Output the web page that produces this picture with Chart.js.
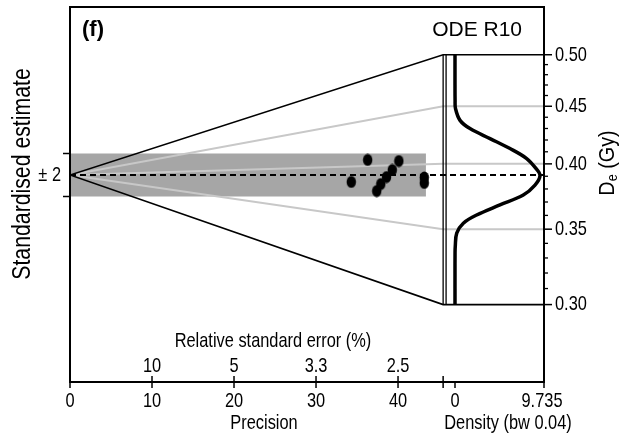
<!DOCTYPE html>
<html><head><meta charset="utf-8">
<script src="https://cdn.jsdelivr.net/npm/chart.js@4.4.0/dist/chart.umd.min.js"></script>
<style>html,body{margin:0;padding:0;background:#fff;}#wrap{width:632px;height:439px;position:relative;}</style>
</head><body><div id="wrap"><canvas id="c"></canvas></div>
<script>
// ---- data ----
const centralDe = 0.391;                       // central dose (Gy), dashed line
const precision   = [34.3, 36.3, 37.4, 37.9, 38.6, 39.3, 40.1, 43.2, 43.2];
const stdEstimate = [-0.65, 1.40, -1.49, -0.84, -0.19, 0.47, 1.30, -0.23, -0.74];
const densityDe  = [0.300, 0.320, 0.333, 0.338, 0.3472, 0.3543, 0.3603, 0.3678, 0.3753, 0.3830, 0.3905, 0.3963, 0.4044, 0.4127, 0.4212, 0.4299, 0.4372, 0.4480, 0.4554, 0.470, 0.500];
const densityVal = [0, 0, 0.005, 0.03, 0.19, 0.91, 2.37, 4.92, 7.47, 8.75, 9.3, 8.85, 7.84, 6.02, 3.83, 1.64, 0.55, 0.05, 0.01, 0, 0];
const deMajorTicks = [0.30, 0.35, 0.40, 0.45, 0.50];
const deMinorTicks = [0.31, 0.32, 0.33, 0.34, 0.36, 0.37, 0.38, 0.39, 0.41, 0.42, 0.43, 0.44, 0.46, 0.47, 0.48, 0.49];
const deRange = [0.30, 0.50];
const greyLineDe = [0.35, 0.40, 0.45];
const precisionTicks = [0, 10, 20, 30, 40];
const rseTickPrecision = [10, 20, 30, 40];
const rseTickLabels = ['10', '5', '3.3', '2.5'];
const densityTicks = [0, 9.735];
const densityTickLabels = ['0', '9.735'];
const bandZ = 2;
const bandMaxPrecision = 43.4;
const xEnd = 45.5;        // precision where the wedge ends
const xMax = 57.8;        // precision at right edge of the box
const yMin = -19.256, yMax = 15.628;
const densityMax = 9.735;
const densityMin = -densityMax * 385 / 89;

const zOf = de => xEnd * Math.log(de / centralDe);

// ellipse point image
const dot = document.createElement('canvas');
dot.width = 11; dot.height = 13;
(function(){const g = dot.getContext('2d'); g.fillStyle = '#000'; g.beginPath(); g.ellipse(5.5, 6.5, 4.7, 6.0, 0, 0, Math.PI*2); g.fill();})();

const FONT = '"Liberation Sans", Arial, Helvetica, sans-serif';
function txt(ctx, s, x, y, o = {}) {
  const {align = 'center', size = 21, bold = false, rot = 0, sx = 0.78, base = 'middle'} = o;
  ctx.save();
  ctx.translate(x, y);
  if (rot) ctx.rotate(rot);
  ctx.scale(sx, 1);
  ctx.font = (bold ? 'bold ' : '') + size + 'px ' + FONT;
  ctx.textAlign = align; ctx.textBaseline = base; ctx.fillStyle = '#000';
  ctx.fillText(s, 0, 0);
  ctx.restore();
}

const line = (pts, color, width, extra = {}) => Object.assign({
  type: 'scatter', data: pts, showLine: true, borderColor: color, borderWidth: width,
  pointRadius: 0, fill: false, tension: 0, xAxisID: 'x', yAxisID: 'y'
}, extra);

const datasets = [];
// points
datasets.push({type: 'scatter', data: precision.map((p, i) => ({x: p, y: stdEstimate[i]})),
  pointStyle: dot, pointRadius: 5, backgroundColor: '#000', borderColor: '#000', order: 0, xAxisID: 'x', yAxisID: 'y'});
// density curve
datasets.push(line(densityDe.map((d, i) => ({x: densityVal[i], y: zOf(d)})), '#000', 3.5,
  {xAxisID: 'xd', tension: 0.35, order: 1, borderCapStyle: 'butt'}));
// dashed central line
datasets.push(line([{x: 0, y: 0}, {x: xMax, y: 0}], '#000', 2, {borderDash: [6, 4], order: 2}));
// wedge polygon
datasets.push(line([{x: xMax, y: zOf(deRange[1])}, {x: xEnd, y: zOf(deRange[1])}, {x: 0, y: 0},
  {x: xEnd, y: zOf(deRange[0])}, {x: xMax, y: zOf(deRange[0])}], '#000', 1.6, {order: 3}));
datasets.push(line([{x: xEnd, y: zOf(deRange[0])}, {x: xEnd, y: zOf(deRange[1])}], '#000', 1.3, {order: 3}));
datasets.push(line([{x: xEnd + 0.36, y: zOf(deRange[0])}, {x: xEnd + 0.36, y: zOf(deRange[1])}], '#000', 1.3, {order: 3}));
// grey lines
greyLineDe.forEach(d => datasets.push(line([{x: 0, y: 0}, {x: xEnd, y: zOf(d)}, {x: xMax, y: zOf(d)}], '#c8c8c8', 2, {order: 4})));

const decor = {
  id: 'decor',
  beforeDatasetsDraw(chart) {
    const {ctx, scales: {x, y}} = chart;
    ctx.save();
    ctx.fillStyle = '#a6a6a6';
    const x0 = x.getPixelForValue(0), x1 = x.getPixelForValue(bandMaxPrecision);
    const y0 = y.getPixelForValue(bandZ), y1 = y.getPixelForValue(-bandZ);
    ctx.fillRect(x0, y0, x1 - x0, y1 - y0);
    ctx.restore();
  },
  afterDraw(chart) {
    const {ctx, chartArea: a, scales: {x, y, xd}} = chart;
    ctx.save();
    ctx.strokeStyle = '#000'; ctx.lineCap = 'butt';
    // box
    ctx.lineWidth = 2;
    ctx.strokeRect(a.left, a.top, a.right - a.left, a.bottom - a.top);
    ctx.lineWidth = 1.5;
    const tk = (x1, y1, x2, y2) => {ctx.beginPath(); ctx.moveTo(x1, y1); ctx.lineTo(x2, y2); ctx.stroke();};
    // bottom precision ticks
    precisionTicks.forEach(v => {const px = x.getPixelForValue(v); tk(px, a.bottom, px, a.bottom + 6); txt(ctx, String(v), px, a.bottom + 19);});
    rseTickPrecision.forEach((v, i) => {const px = x.getPixelForValue(v); tk(px, a.bottom, px, a.bottom - 6); txt(ctx, rseTickLabels[i], px, a.bottom - 16);});
    const pe = x.getPixelForValue(xEnd); tk(pe, a.bottom - 6, pe, a.bottom + 6);
    densityTicks.forEach((v, i) => {const px = xd.getPixelForValue(v); tk(px, a.bottom, px, a.bottom + 6); txt(ctx, densityTickLabels[i], px - (i ? 2 : 0), a.bottom + 19);});
    txt(ctx, 'Precision', 264, a.bottom + 41);
    txt(ctx, 'Relative standard error (%)', 273, a.bottom - 41);
    txt(ctx, 'Density (bw 0.04)', 508, a.bottom + 41);
    // left ticks
    [bandZ, -bandZ].forEach(v => {const py = y.getPixelForValue(v); tk(a.left - 7, py, a.left, py);});
    txt(ctx, '\u00b1 2', a.left - 9, y.getPixelForValue(0), {align: 'right'});
    txt(ctx, 'Standardised estimate', 23, 174, {rot: -Math.PI / 2, size: 25, sx: 0.85});
    // right De axis
    deMajorTicks.forEach(v => {const py = y.getPixelForValue(zOf(v)); tk(a.right, py, a.right + 8, py); txt(ctx, v.toFixed(2), a.right + 11, py, {align: 'left'});});
    ctx.lineWidth = 1.3;
    deMinorTicks.forEach(v => {const py = y.getPixelForValue(zOf(v)); tk(a.right, py, a.right + 4, py);});
    // De (Gy) label rotated
    ctx.save();
    ctx.translate(608, 163); ctx.rotate(-Math.PI / 2); ctx.scale(0.9, 1);
    ctx.fillStyle = '#000'; ctx.textBaseline = 'middle'; ctx.textAlign = 'left';
    ctx.font = '22px ' + FONT; const wD = ctx.measureText('D').width; const wG = ctx.measureText(' (Gy)').width;
    ctx.font = '14px ' + FONT; const we = ctx.measureText('e').width;
    const start = -(wD + we + wG) / 2;
    ctx.font = '22px ' + FONT; ctx.fillText('D', start, 0);
    ctx.font = '14px ' + FONT; ctx.fillText('e', start + wD, 5);
    ctx.font = '22px ' + FONT; ctx.fillText(' (Gy)', start + wD + we, 0);
    ctx.restore();
    // titles
    txt(ctx, '(f)', 82, 30, {align: 'left', bold: true, size: 22, sx: 1});
    txt(ctx, 'ODE R10', 522, 30, {align: 'right', size: 21, sx: 1});
    ctx.restore();
  }
};

new Chart(document.getElementById('c'), {
  type: 'scatter',
  data: {datasets},
  options: {
    responsive: true, maintainAspectRatio: false, animation: false,
    layout: {padding: {left: 70, right: 88, top: 7, bottom: 57}},
    plugins: {legend: {display: false}, tooltip: {enabled: false}},
    scales: {
      x: {type: 'linear', min: 0, max: xMax, display: false},
      xd: {type: 'linear', min: densityMin, max: densityMax, display: false},
      y: {type: 'linear', min: yMin, max: yMax, display: false}
    }
  },
  plugins: [decor]
});
</script></body></html>
